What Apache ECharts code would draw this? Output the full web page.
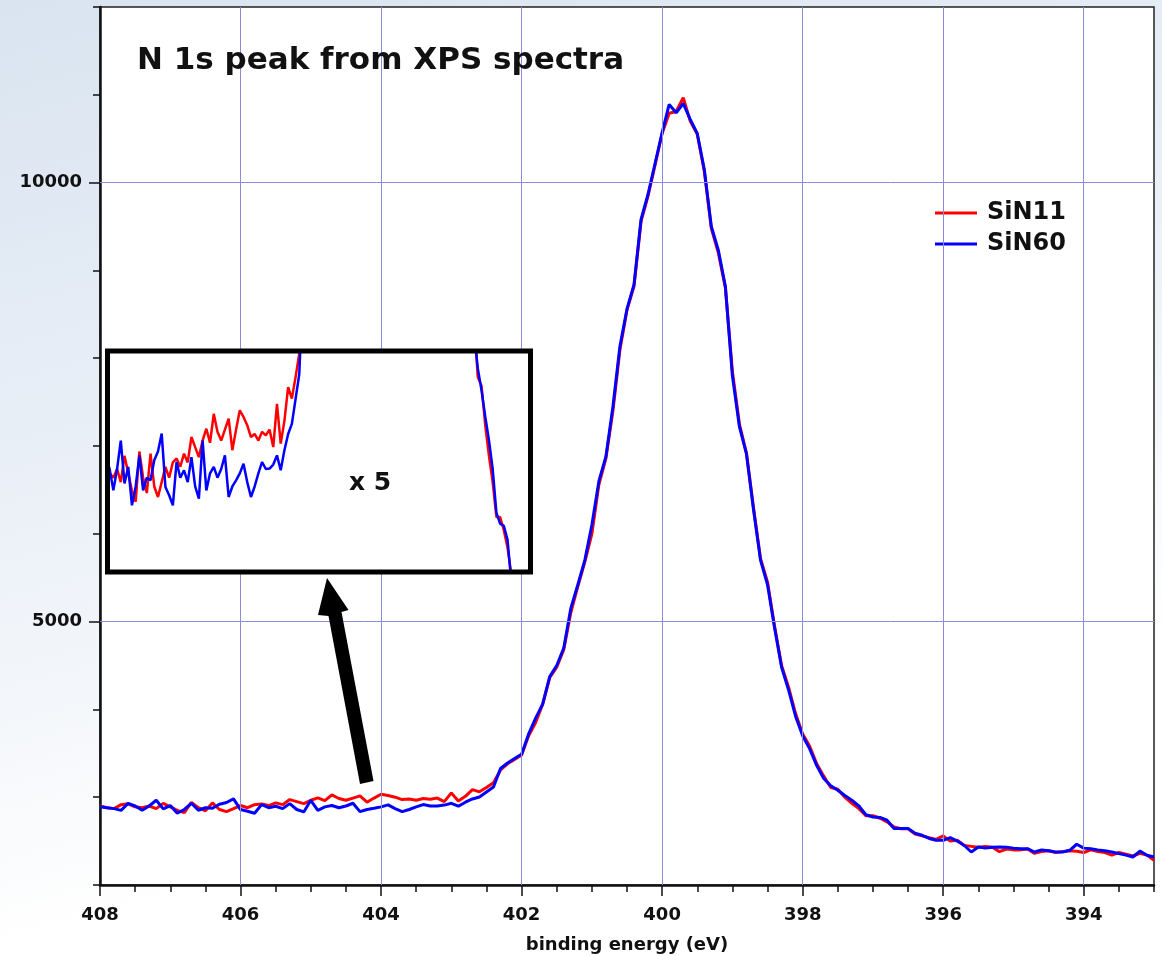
<!DOCTYPE html>
<html>
<head>
<meta charset="utf-8">
<script src="https://cdn.jsdelivr.net/npm/echarts@6.0.0/dist/echarts.min.js"></script>
<style>
  html, body { margin: 0; padding: 0; }
  body {
    width: 1162px; height: 956px; overflow: hidden;
    background: linear-gradient(165deg, #d9e4f0 0%, #e6edf6 30%, #f3f6fa 55%, #ffffff 75%);
  }
  #chart { width: 1162px; height: 956px; }
</style>
</head>
<body>
<div id="chart"></div>
<script>
// binding energy (eV), high to low
const energy = [
  408.0, 407.9, 407.8, 407.7, 407.6, 407.5, 407.4, 407.3, 407.2, 407.1,
  407.0, 406.9, 406.8, 406.7, 406.6, 406.5, 406.4, 406.3, 406.2, 406.1,
  406.0, 405.9, 405.8, 405.7, 405.6, 405.5, 405.4, 405.3, 405.2, 405.1,
  405.0, 404.9, 404.8, 404.7, 404.6, 404.5, 404.4, 404.3, 404.2, 404.1,
  404.0, 403.9, 403.8, 403.7, 403.6, 403.5, 403.4, 403.3, 403.2, 403.1,
  403.0, 402.9, 402.8, 402.7, 402.6, 402.5, 402.4, 402.3, 402.2, 402.1,
  402.0, 401.9, 401.8, 401.7, 401.6, 401.5, 401.4, 401.3, 401.2, 401.1,
  401.0, 400.9, 400.8, 400.7, 400.6, 400.5, 400.4, 400.3, 400.2, 400.1,
  400.0, 399.9, 399.8, 399.7, 399.6, 399.5, 399.4, 399.3, 399.2, 399.1,
  399.0, 398.9, 398.8, 398.7, 398.6, 398.5, 398.4, 398.3, 398.2, 398.1,
  398.0, 397.9, 397.8, 397.7, 397.6, 397.5, 397.4, 397.3, 397.2, 397.1,
  397.0, 396.9, 396.8, 396.7, 396.6, 396.5, 396.4, 396.3, 396.2, 396.1,
  396.0, 395.9, 395.8, 395.7, 395.6, 395.5, 395.4, 395.3, 395.2, 395.1,
  395.0, 394.9, 394.8, 394.7, 394.6, 394.5, 394.4, 394.3, 394.2, 394.1,
  394.0, 393.9, 393.8, 393.7, 393.6, 393.5, 393.4, 393.3, 393.2, 393.1,
  393.0
];

const sin11 = [
  2900, 2880, 2870, 2915, 2925, 2890, 2880, 2900, 2870, 2930,
  2890, 2850, 2825, 2940, 2880, 2845, 2935, 2860, 2836, 2870,
  2905, 2880, 2915, 2924, 2905, 2935, 2915, 2973, 2950, 2927,
  2965, 2992, 2960, 3026, 2985, 2965, 2990, 3015, 2943, 2990,
  3034, 3019, 3000, 2973, 2980, 2965, 2985, 2977, 2990, 2950,
  3049, 2958, 3010, 3087, 3061, 3110, 3164, 3310, 3380, 3430,
  3480, 3700, 3850, 4060, 4360, 4480, 4680, 5100, 5400, 5680,
  6000, 6560, 6860, 7400, 8100, 8550, 8820, 9560, 9850, 10200,
  10560, 10790, 10810, 10966, 10700, 10550, 10130, 9480, 9200, 8800,
  7850, 7250, 6920, 6300, 5720, 5450, 4950, 4500, 4250, 3950,
  3720, 3580, 3380, 3240, 3110, 3090, 3000, 2930, 2870, 2790,
  2790, 2760, 2720, 2660, 2640, 2640, 2580, 2560, 2540, 2520,
  2560, 2500, 2510, 2450, 2440, 2430, 2440, 2430, 2380, 2410,
  2400, 2400, 2410, 2360, 2380, 2390, 2370, 2380, 2390, 2385,
  2370, 2400, 2380, 2370, 2340, 2370, 2350, 2330, 2360, 2340,
  2280
];

const sin60 = [
  2890, 2880, 2870, 2850, 2930, 2900, 2851, 2900, 2965, 2867,
  2905, 2817, 2860, 2931, 2851, 2880, 2874, 2920, 2940, 2981,
  2859, 2840, 2817, 2916, 2880, 2897, 2870, 2927, 2860, 2832,
  2965, 2851, 2890, 2905, 2880, 2900, 2931, 2836, 2860, 2874,
  2890, 2912, 2870, 2836, 2860, 2890, 2916, 2900, 2901, 2910,
  2931, 2897, 2943, 2980, 3003, 3060, 3117, 3327, 3390, 3440,
  3490, 3720, 3900, 4060, 4373, 4500, 4700, 5150, 5420, 5700,
  6100, 6600, 6880, 7450, 8140, 8560, 8840, 9580, 9870, 10220,
  10570, 10890, 10795, 10901, 10719, 10560, 10150, 9500, 9230, 8820,
  7800, 7220, 6910, 6280, 5700, 5420, 4930, 4480, 4220, 3920,
  3700, 3550, 3360, 3213, 3130, 3080, 3020, 2966, 2900, 2800,
  2775, 2770, 2738, 2643, 2643, 2643, 2590, 2566, 2530, 2509,
  2509, 2540, 2500, 2450, 2376, 2433, 2420, 2430, 2433, 2430,
  2420, 2414, 2414, 2376, 2400, 2390, 2376, 2376, 2395, 2464,
  2420, 2414, 2400, 2390, 2376, 2357, 2340, 2319, 2387, 2338,
  2319
];

const xMajor = [394, 396, 398, 400, 402, 404, 406, 408];
const yMajor = [5000, 10000];

const font = 'DejaVu Sans';
const red = '#ff0000';
const blue = '#0000ff';
const gridColor = '#8c8cdc';

const pairs = (ys) => energy.map((e, i) => [e, ys[i]]);

const chart = echarts.init(document.getElementById('chart'), null, { renderer: 'canvas' });

const xLabel = (v) => {
  const r = Math.round(v);
  return (Math.abs(v - r) < 1e-6 && r % 2 === 0) ? String(r) : '';
};

chart.setOption({
  animation: false,
  backgroundColor: 'transparent',
  title: {
    text: 'N 1s peak from XPS spectra',
    left: 137,
    top: 45,
    padding: 0,
    textStyle: { fontFamily: font, fontSize: 31, fontWeight: 'bold', color: '#111' }
  },
  legend: {
    data: ['SiN11', 'SiN60'],
    orient: 'vertical',
    left: 935,
    top: 201,
    padding: 0,
    itemWidth: 42,
    itemHeight: 3,
    itemGap: 7,
    icon: 'rect',
    textStyle: { fontFamily: font, fontSize: 24, fontWeight: 'bold', color: '#111', lineHeight: 24, padding: [0, 0, 0, 5] }
  },
  grid: [
    { left: 100, top: 7, right: 8, bottom: 71, outerBoundsMode: 'none', show: true, backgroundColor: '#ffffff', borderColor: '#222', borderWidth: 1.5 },
    { left: 110, top: 353.5, width: 418, height: 216.5, outerBoundsMode: 'none' }
  ],
  xAxis: [
    {
      gridIndex: 0, type: 'value', inverse: true, min: 393, max: 408, interval: 0.5,
      name: 'binding energy (eV)', nameLocation: 'middle', nameGap: 51,
      nameTextStyle: { fontFamily: font, fontSize: 18, fontWeight: 'bold', color: '#111' },
      axisLine: { lineStyle: { color: '#111', width: 2.5 } },
      axisTick: { length: 7, lineStyle: { color: '#111', width: 1.5 } },
      axisLabel: { formatter: xLabel, margin: 21, fontFamily: font, fontSize: 18, fontWeight: 'bold', color: '#111', showMinLabel: true, showMaxLabel: true },
      splitLine: { show: false }
    },
    {
      gridIndex: 0, type: 'value', inverse: true, min: 393, max: 408, position: 'bottom',
      axisLine: { show: false },
      axisTick: { show: true, length: 11, customValues: xMajor, lineStyle: { color: '#111', width: 1.5 } },
      axisLabel: { show: false },
      splitLine: { show: false }
    },
    { gridIndex: 1, type: 'value', inverse: true, min: 396.25, max: 407.49, show: false }
  ],
  yAxis: [
    {
      gridIndex: 0, type: 'value', min: 2000, max: 12000, interval: 1000,
      axisLine: { show: true, lineStyle: { color: '#111', width: 2.5 } },
      axisTick: { show: true, length: 7, lineStyle: { color: '#111', width: 1.5 } },
      axisLabel: {
        formatter: (v) => (v % 5000 === 0 ? String(v) : ''),
        margin: 18, fontFamily: font, fontSize: 18, fontWeight: 'bold', color: '#111'
      },
      splitLine: { show: false }
    },
    {
      gridIndex: 0, type: 'value', min: 2000, max: 12000, position: 'left',
      axisLine: { show: false },
      axisTick: { show: true, length: 11, customValues: yMajor, lineStyle: { color: '#111', width: 1.5 } },
      axisLabel: { show: false },
      splitLine: { show: false }
    },
    { gridIndex: 1, type: 'value', min: 2669, max: 3164, show: false }
  ],
  series: [
    {
      // grid lines only
      type: 'line', xAxisIndex: 0, yAxisIndex: 0, data: [], z: 1, silent: true,
      markLine: {
        silent: true, symbol: ['none', 'none'], label: { show: false },
        lineStyle: { type: 'solid', color: gridColor, width: 1 },
        data: xMajor.filter((v) => v < 408).map((v) => ({ xAxis: v }))
          .concat(yMajor.map((v) => ({ yAxis: v })))
      }
    },
    {
      name: 'SiN11', type: 'line', xAxisIndex: 0, yAxisIndex: 0, z: 3,
      data: pairs(sin11), showSymbol: false, color: red,
      lineStyle: { color: red, width: 3 }
    },
    {
      name: 'SiN60', type: 'line', xAxisIndex: 0, yAxisIndex: 0, z: 3,
      data: pairs(sin60), showSymbol: false, color: blue,
      lineStyle: { color: blue, width: 3 }
    },
    // the x5 inset, on its own layer above the main plot
    {
      name: 'SiN11', type: 'line', xAxisIndex: 2, yAxisIndex: 2, zlevel: 1, z: 10, clip: true,
      data: pairs(sin11), showSymbol: false, color: red,
      lineStyle: { color: red, width: 2.5 }
    },
    {
      name: 'SiN60', type: 'line', xAxisIndex: 2, yAxisIndex: 2, zlevel: 1, z: 10, clip: true,
      data: pairs(sin60), showSymbol: false, color: blue,
      lineStyle: { color: blue, width: 2.5 }
    }
  ],
  graphic: [
    { type: 'rect', zlevel: 1, z: 5, silent: true, shape: { x: 107.5, y: 351, width: 423, height: 221 }, style: { fill: '#ffffff' } },
    { type: 'rect', zlevel: 1, z: 20, silent: true, shape: { x: 107.5, y: 351, width: 423, height: 221 }, style: { fill: 'none', stroke: '#000', lineWidth: 5 } },
    {
      type: 'text', zlevel: 1, z: 20, silent: true, x: 370, y: 483,
      style: { text: 'x 5', fontFamily: font, fontSize: 25, fontWeight: 'bold', fill: '#111', align: 'center', verticalAlign: 'middle' }
    },
    {
      type: 'polygon', zlevel: 1, z: 20, silent: true,
      shape: { points: [[327, 578], [348.5, 610], [341.5, 612], [373.5, 781], [360, 784], [328.5, 616], [318, 615]] },
      style: { fill: '#000' }
    }
  ]
});
</script>
</body>
</html>
